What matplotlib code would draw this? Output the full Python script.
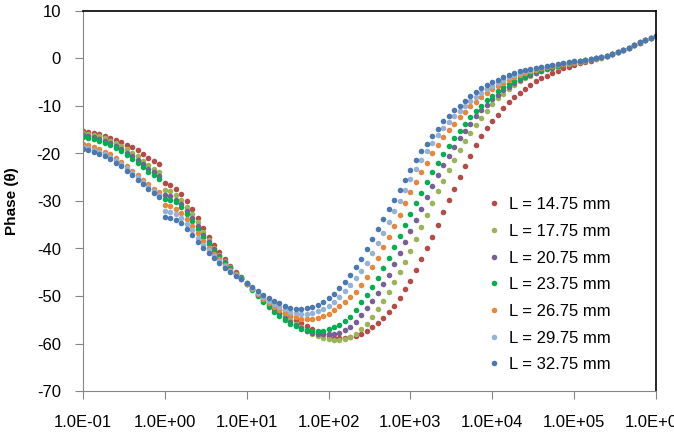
import matplotlib.pyplot as plt
import numpy as np

# frequency sweeps (Hz), 15 points per decade:
# a short low-frequency sweep and the main 1 Hz - 1 MHz sweep
freq_low = np.logspace(-1, -1 / 15, 15)
freq_main = np.logspace(0, 6, 91)

labels = ["L = 14.75 mm", "L = 17.75 mm", "L = 20.75 mm", "L = 23.75 mm",
          "L = 26.75 mm", "L = 29.75 mm", "L = 32.75 mm"]
colors = ["#B44B48", "#9BB45A", "#785F96", "#00AF50", "#E6873C", "#96B2D7", "#4B78AF"]

# phase (deg), low-frequency sweep
low_1475 = [-15.3, -15.4, -15.6, -15.9, -16.3, -16.7, -17.1, -17.6, -18.2, -18.7, -19.3, -20.1, -20.9, -21.5, -22.2]
low_1775 = [-15.7, -15.8, -16.1, -16.4, -16.8, -17.3, -17.8, -18.4, -19.1, -19.8, -20.6, -21.5, -22.4, -23.2, -24.0]
low_2075 = [-16.2, -16.3, -16.6, -16.9, -17.3, -17.8, -18.4, -19.1, -19.8, -20.6, -21.4, -22.3, -23.2, -24.0, -24.8]
low_2375 = [-16.6, -16.7, -17.0, -17.3, -17.7, -18.2, -18.8, -19.5, -20.3, -21.1, -22.0, -22.9, -23.8, -24.6, -25.4]
low_2675 = [-18.1, -18.3, -18.7, -19.1, -19.6, -20.2, -20.9, -21.7, -22.6, -23.6, -24.5, -25.5, -26.5, -27.4, -28.2]
low_2975 = [-18.6, -18.8, -19.2, -19.6, -20.1, -20.7, -21.4, -22.2, -23.1, -24.1, -25.0, -26.0, -27.0, -27.9, -28.7]
low_3275 = [-19.1, -19.3, -19.7, -20.1, -20.6, -21.2, -21.9, -22.7, -23.6, -24.6, -25.5, -26.5, -27.5, -28.3, -29.1]

# phase (deg), main sweep
main_1475 = [-26.3, -26.6, -27.4, -28.6, -30.1, -31.7, -33.5, -35.6, -37.5, -39.2,
             -40.8, -42.2, -43.6, -44.9, -46.1, -47.3, -48.5, -49.6, -50.5, -51.3,
             -52.1, -52.9, -53.6, -54.3, -55.0, -55.7, -56.4, -57.0, -57.6, -58.1,
             -58.5, -58.8, -58.9, -58.9, -58.7, -58.4, -58.0, -57.3, -56.6, -55.7,
             -54.6, -53.4, -52.0, -50.4, -48.6, -46.8, -44.6, -42.3, -39.9, -37.6,
             -35.1, -32.4, -29.8, -27.4, -25.0, -22.7, -20.5, -18.3, -16.4, -14.7,
             -13.1, -11.8, -10.4, -9.2, -8.1, -7.2, -6.4, -5.6, -4.8, -4.2,
             -3.7, -3.1, -2.6, -2.1, -1.7, -1.4, -1.0, -0.7, -0.45, -0.15,
             0.15, 0.5, 0.9, 1.3, 1.75, 2.25, 2.8, 3.35, 3.85, 4.35, 4.75]
main_1775 = [-27.7, -28.0, -28.7, -29.8, -31.2, -32.8, -34.5, -36.5, -38.2, -39.8,
             -41.3, -42.6, -43.9, -45.1, -46.2, -47.4, -48.6, -49.8, -50.8, -51.7,
             -52.6, -53.5, -54.3, -55.1, -55.9, -56.6, -57.3, -57.9, -58.4, -58.8,
             -59.1, -59.2, -59.2, -59.0, -58.6, -58.0, -57.0, -55.8, -54.4, -52.8,
             -51.0, -49.1, -47.1, -45.0, -42.9, -40.5, -38.0, -35.5, -33.0, -30.5,
             -28.0, -25.7, -23.4, -21.3, -19.3, -17.4, -15.6, -14.0, -12.6, -11.1,
             -9.6, -8.4, -7.4, -6.4, -5.5, -4.8, -4.1, -3.6, -3.1, -2.7,
             -2.3, -2.0, -1.7, -1.4, -1.1, -0.9, -0.7, -0.5, -0.3, -0.05,
             0.2, 0.55, 0.95, 1.35, 1.75, 2.25, 2.8, 3.35, 3.9, 4.4, 4.8]
main_2075 = [-28.8, -29.0, -29.7, -30.7, -32.1, -33.6, -35.3, -37.1, -38.7, -40.2,
             -41.6, -42.8, -44.1, -45.2, -46.3, -47.4, -48.6, -49.8, -50.9, -51.9,
             -52.8, -53.7, -54.6, -55.4, -56.1, -56.8, -57.3, -57.7, -58.0, -58.1,
             -58.1, -58.0, -57.7, -57.2, -56.5, -55.4, -53.9, -52.5, -51.0, -49.4,
             -47.5, -45.5, -43.3, -41.0, -38.6, -36.4, -34.0, -31.6, -29.2, -26.9,
             -24.6, -22.5, -20.5, -18.6, -16.8, -15.2, -13.7, -12.2, -10.9, -9.7,
             -8.6, -7.6, -6.7, -5.9, -5.1, -4.5, -3.9, -3.4, -3.0, -2.6,
             -2.2, -1.9, -1.6, -1.3, -1.0, -0.8, -0.6, -0.4, -0.25, 0.0,
             0.25, 0.55, 0.95, 1.35, 1.8, 2.3, 2.8, 3.35, 3.9, 4.4, 4.8]
main_2375 = [-29.5, -29.7, -30.3, -31.3, -32.7, -34.2, -35.8, -37.6, -39.1, -40.5,
             -41.8, -43.0, -44.2, -45.3, -46.3, -47.5, -48.8, -50.0, -51.2, -52.3,
             -53.3, -54.3, -55.1, -55.8, -56.4, -56.9, -57.2, -57.4, -57.4, -57.3,
             -57.0, -56.6, -56.0, -55.3, -54.4, -53.0, -51.3, -49.7, -48.0, -46.3,
             -44.2, -42.0, -39.7, -37.4, -35.1, -32.8, -30.5, -28.3, -26.1, -24.0,
             -22.0, -20.1, -18.4, -16.8, -15.2, -13.8, -12.4, -11.1, -9.9, -8.8,
             -7.8, -6.9, -6.1, -5.3, -4.7, -4.1, -3.6, -3.1, -2.7, -2.4,
             -2.0, -1.7, -1.5, -1.2, -0.9, -0.7, -0.55, -0.4, -0.2, 0.0,
             0.25, 0.55, 0.95, 1.35, 1.8, 2.3, 2.8, 3.4, 3.9, 4.4, 4.8]
main_2675 = [-30.9, -31.1, -31.6, -32.5, -33.8, -35.3, -36.8, -38.5, -39.8, -41.1,
             -42.3, -43.4, -44.5, -45.4, -46.4, -47.4, -48.5, -49.6, -50.6, -51.5,
             -52.3, -53.0, -53.6, -54.1, -54.5, -54.8, -54.9, -54.9, -54.7, -54.3,
             -53.7, -53.0, -52.2, -51.3, -50.3, -49.1, -47.7, -45.9, -43.9, -41.9,
             -39.7, -37.5, -35.2, -32.9, -30.5, -28.2, -26.0, -23.9, -21.9, -20.0,
             -18.2, -16.6, -15.1, -13.7, -12.4, -11.2, -10.1, -9.1, -8.2, -7.3,
             -6.5, -5.8, -5.1, -4.5, -4.0, -3.5, -3.1, -2.7, -2.4, -2.1,
             -1.8, -1.6, -1.4, -1.1, -0.85, -0.65, -0.5, -0.35, -0.2, 0.0,
             0.25, 0.55, 0.95, 1.35, 1.8, 2.3, 2.8, 3.4, 3.9, 4.4, 4.8]
main_2975 = [-32.1, -32.3, -32.7, -33.5, -34.8, -36.2, -37.7, -39.2, -40.4, -41.6,
             -42.7, -43.7, -44.7, -45.6, -46.4, -47.3, -48.3, -49.3, -50.2, -51.0,
             -51.7, -52.3, -52.8, -53.3, -53.6, -53.8, -53.8, -53.6, -53.2, -52.7,
             -52.0, -51.2, -50.2, -49.0, -47.7, -46.3, -44.8, -43.0, -41.0, -38.9,
             -36.7, -34.5, -32.2, -29.9, -27.6, -25.4, -23.3, -21.3, -19.5, -17.8,
             -16.2, -14.7, -13.4, -12.2, -11.1, -10.0, -9.0, -8.1, -7.2, -6.5,
             -5.8, -5.1, -4.5, -4.0, -3.5, -3.1, -2.7, -2.4, -2.1, -1.85,
             -1.6, -1.4, -1.25, -1.0, -0.8, -0.6, -0.45, -0.3, -0.2, 0.0,
             0.25, 0.55, 0.95, 1.35, 1.8, 2.3, 2.8, 3.4, 3.9, 4.4, 4.8]
main_3275 = [-33.3, -33.5, -33.9, -34.6, -35.8, -37.2, -38.6, -40.0, -41.0, -42.1,
             -43.1, -44.0, -44.9, -45.7, -46.5, -47.3, -48.1, -49.0, -49.8, -50.5,
             -51.0, -51.5, -52.1, -52.5, -52.8, -52.8, -52.6, -52.3, -51.8, -51.2,
             -50.4, -49.5, -48.3, -47.1, -45.6, -43.9, -42.2, -40.1, -38.1, -36.0,
             -33.7, -31.6, -29.8, -27.7, -25.5, -23.4, -21.4, -19.5, -17.9, -16.4,
             -14.8, -13.2, -12.1, -10.9, -9.9, -8.9, -7.9, -7.0, -6.2, -5.5,
             -5.0, -4.5, -3.9, -3.4, -3.0, -2.7, -2.4, -2.2, -1.9, -1.7,
             -1.5, -1.3, -1.2, -0.95, -0.75, -0.55, -0.45, -0.3, -0.2, 0.0,
             0.25, 0.55, 0.95, 1.35, 1.75, 2.3, 2.8, 3.4, 3.9, 4.4, 4.8]

low = [low_1475, low_1775, low_2075, low_2375, low_2675, low_2975, low_3275]
main = [main_1475, main_1775, main_2075, main_2375, main_2675, main_2975, main_3275]

plt.rcParams['font.family'] = ['Liberation Sans', 'DejaVu Sans']
plt.rcParams['axes.unicode_minus'] = False

fig = plt.figure(figsize=(6.74, 4.36), dpi=100)
ax = fig.add_axes([83 / 674, 45 / 436, 573 / 674, 380 / 436])

for i in range(7):
    f = np.concatenate([freq_low, freq_main])
    ph = np.concatenate([low[i], main[i]])
    ax.plot(f, ph, linestyle='none', marker='o', markersize=4.0,
            markeredgewidth=0, color=colors[i], label=labels[i])

ax.set_xscale('log')
ax.set_xlim(0.1, 1e6)
ax.set_ylim(-70, 10)
ax.set_yticks(np.arange(-70, 11, 10))
ax.set_xticks([10.0 ** e for e in range(-1, 7)])
ax.set_xticklabels(["1.0E-01", "1.0E+00", "1.0E+01", "1.0E+02",
                    "1.0E+03", "1.0E+04", "1.0E+05", "1.0E+06"])
ax.minorticks_off()

for s in ['left', 'bottom']:
    ax.spines[s].set_color('#868686')
for s in ['top', 'right']:
    ax.spines[s].set_color('black')
    ax.spines[s].set_linewidth(1.2)

ax.tick_params(axis='x', length=6, color='#868686', labelsize=12, pad=11)
ax.tick_params(axis='y', length=6, color='#868686', labelsize=12, pad=10)

ax.set_ylabel('Phase (θ)', fontsize=11, fontweight='bold')
ax.yaxis.set_label_coords(-0.112, 0.5)

ax.legend(loc='upper left', bbox_to_anchor=(0.705, 0.510), frameon=False,
          numpoints=1, handlelength=0.8, handletextpad=0.5, labelspacing=0.70,
          borderpad=0, borderaxespad=0, fontsize=12, markerscale=1.0)

plt.savefig('out.png', dpi=100)
